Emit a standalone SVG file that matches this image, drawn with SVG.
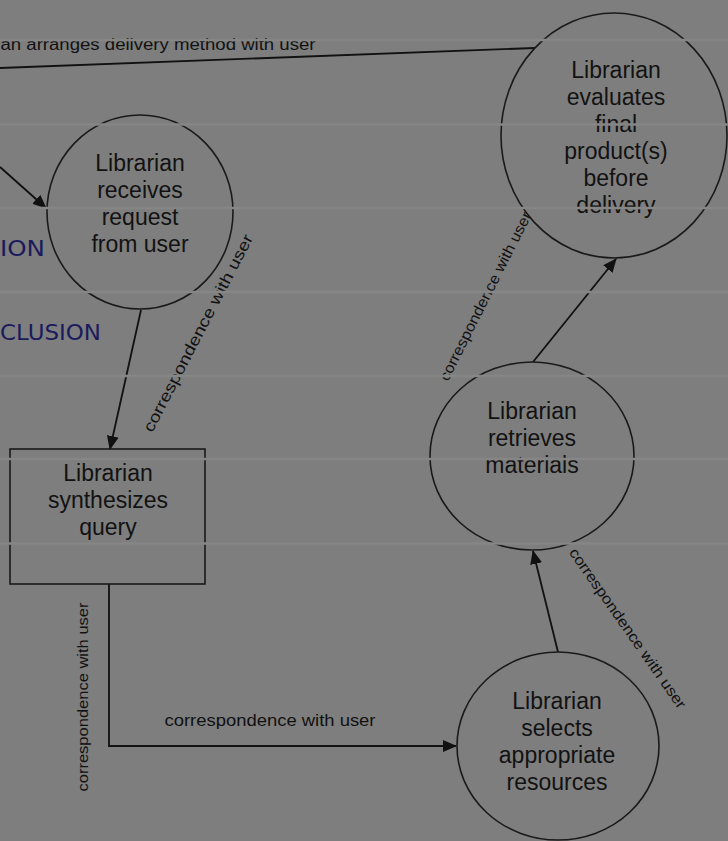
<svg xmlns="http://www.w3.org/2000/svg" width="728" height="841" viewBox="0 0 728 841">
<defs>
<marker id="arr" markerWidth="14" markerHeight="12" refX="13" refY="6" orient="auto" markerUnits="userSpaceOnUse">
<path d="M0,0 L14,6 L0,12 Z" fill="#111"/>
</marker>
<style>
.node{fill:none;stroke:#1a1a1a;stroke-width:1.6}
.nt{font-family:"Liberation Sans",Arial,sans-serif;font-size:23px;fill:#121212;text-anchor:middle;dominant-baseline:central}
.conn{fill:none;stroke:#111;stroke-width:1.8}
.lbl{font-family:"Liberation Sans",Arial,sans-serif;font-size:15px;fill:#111;text-anchor:middle;dominant-baseline:central}
.blue{font-family:"DejaVu Sans",sans-serif;font-size:22px;fill:#1a1a5c}
.band{stroke:#868686;stroke-width:2.5}
</style>
</defs>
<rect width="728" height="841" fill="#7e7e7e"/>

<g id="connectors">
<line class="conn" x1="0" y1="68" x2="535" y2="48"/>
<line class="conn" x1="0" y1="167" x2="46" y2="208" marker-end="url(#arr)"/>
<line class="conn" x1="141" y1="310" x2="110" y2="449" marker-end="url(#arr)"/>
<polyline class="conn" points="109,584 109,746 456,746" marker-end="url(#arr)"/>
<line class="conn" x1="558" y1="652" x2="533" y2="551" marker-end="url(#arr)"/>
<line class="conn" x1="533" y1="362" x2="616" y2="259" marker-end="url(#arr)"/>
<text class="lbl" x="158" y="44" textLength="315" lengthAdjust="spacingAndGlyphs" style="font-size:16px">an arranges  delivery  method  with  user</text>
<text class="lbl" transform="translate(198,333) rotate(-62.6)" textLength="220" lengthAdjust="spacingAndGlyphs" style="font-size:16px">correspondence  with user</text>
<text class="lbl" transform="translate(82,697) rotate(-90)" textLength="189" lengthAdjust="spacingAndGlyphs">correspondence  with  user</text>
<text class="lbl" x="270" y="720" textLength="211" lengthAdjust="spacingAndGlyphs" style="font-size:16px">correspondence  with  user</text>
<text class="lbl" transform="translate(628,628) rotate(55)" textLength="192" lengthAdjust="spacingAndGlyphs">correspondence  with  user</text>
<text class="lbl" transform="translate(485,296) rotate(-63.3)" textLength="187" lengthAdjust="spacingAndGlyphs">correspondence  with  user</text>
</g>

<g id="node-evaluates">
<ellipse class="node" cx="614" cy="135.5" rx="113" ry="122.5"/>
<text class="nt" x="616" y="70">Librarian</text>
<text class="nt" x="616" y="97">evaluates</text>
<text class="nt" x="616" y="124">final</text>
<text class="nt" x="616" y="151">product(s)</text>
<text class="nt" x="616" y="178">before</text>
<text class="nt" x="616" y="205">delivery</text>
</g>

<g id="node-receives">
<ellipse class="node" cx="140" cy="212" rx="93" ry="97"/>
<text class="nt" x="140" y="163">Librarian</text>
<text class="nt" x="140" y="190">receives</text>
<text class="nt" x="140" y="217">request</text>
<text class="nt" x="140" y="244">from user</text>
</g>

<g id="node-synthesizes">
<rect class="node" x="10" y="449" width="195" height="135"/>
<text class="nt" x="108" y="473">Librarian</text>
<text class="nt" x="108" y="500">synthesizes</text>
<text class="nt" x="108" y="527">query</text>
</g>

<g id="node-retrieves">
<ellipse class="node" cx="532" cy="456" rx="102" ry="94"/>
<text class="nt" x="532" y="411">Librarian</text>
<text class="nt" x="532" y="438">retrieves</text>
<text class="nt" x="532" y="465">materials</text>
</g>

<g id="node-selects">
<ellipse class="node" cx="558" cy="746" rx="101" ry="94"/>
<text class="nt" x="557" y="701">Librarian</text>
<text class="nt" x="557" y="728">selects</text>
<text class="nt" x="557" y="755">appropriate</text>
<text class="nt" x="557" y="782">resources</text>
</g>

<g id="side-text">
<text class="blue" x="0" y="256" textLength="45" lengthAdjust="spacingAndGlyphs">ION</text>
<text class="blue" x="0" y="340" textLength="101" lengthAdjust="spacingAndGlyphs">CLUSION</text>
</g>

<g id="bands">
<line class="band" x1="0" y1="40" x2="728" y2="40"/>
<line class="band" x1="0" y1="124.5" x2="728" y2="124.5"/>
<line class="band" x1="0" y1="208" x2="728" y2="208"/>
<line class="band" x1="0" y1="292" x2="728" y2="292"/>
<line class="band" x1="0" y1="376" x2="728" y2="376"/>
<line class="band" x1="0" y1="459" x2="728" y2="459"/>
<line class="band" x1="0" y1="543.5" x2="728" y2="543.5"/>
</g>
</svg>
